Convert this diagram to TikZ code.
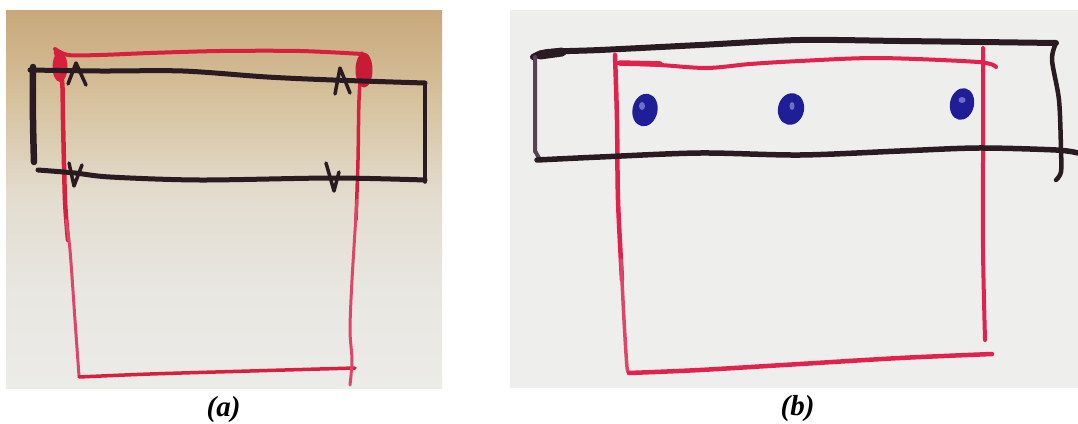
\documentclass[tikz,border=0pt]{standalone}
\usepackage{fontspec}
\setmainfont{Liberation Serif}
\definecolor{inkK}{RGB}{42,26,34}
\definecolor{inkKg}{RGB}{88,66,84}
\definecolor{inkR}{RGB}{214,32,62}
\definecolor{inkRd}{RGB}{198,28,52}
\definecolor{inkRl}{RGB}{222,70,105}
\definecolor{inkR2}{RGB}{226,34,76}
\definecolor{inkB}{RGB}{32,30,150}
\definecolor{inkBl}{RGB}{110,110,200}
\definecolor{pA1}{RGB}{200,168,122}
\definecolor{pA2}{RGB}{214,194,158}
\definecolor{pA3}{RGB}{227,221,208}
\definecolor{pA4}{RGB}{233,231,226}
\definecolor{pA5}{RGB}{235,235,232}
\definecolor{pB}{RGB}{238,239,237}
\pgfdeclareverticalshading{paperA}{100bp}{color(0bp)=(pA5); color(25bp)=(pA5); color(37bp)=(pA4); color(50bp)=(pA3); color(63bp)=(pA2); color(75bp)=(pA1); color(100bp)=(pA1)}
\tikzset{
  pen/.style={line cap=round, line join=round},
  blackpen/.style={pen, draw=inkK},
  redpen/.style={pen, draw=inkR},
  redpenb/.style={pen, draw=inkR2},
  lab/.style={font=\fontsize{29}{29}\selectfont\bfseries\itshape, inner sep=0pt, anchor=base}
}
\begin{document}
\begin{tikzpicture}[x=1pt,y=-1pt]
\useasboundingbox (0,0) rectangle (1078,423);
\fill[white] (0,0) rectangle (1078,423);
% ---------------- panel (a) ----------------
\fill[shading=paperA] (6,10) rectangle (442,388);
% red square
\draw[redpen, line width=4] plot[smooth] coordinates {(55,49) (68,55) (100,55) (150,53) (220,51) (300,51) (362,54)};
\draw[redpen, line width=4.5] plot[smooth] coordinates {(56,52) (62,80) (63,120) (65,200) (68,240)};
\draw[redpen, draw=inkRl, line width=3] plot[smooth] coordinates {(66,220) (70,250) (75,320) (79,376)};
\draw[redpen, line width=3.5] plot[smooth] coordinates {(79,377) (150,374) (250,371) (355,368)};
\draw[redpen, line width=3.5] plot[smooth] coordinates {(362,53) (359,100) (358,160) (356,220)};
\draw[redpen, draw=inkRl, line width=3] plot[smooth] coordinates {(357,200) (352,280) (350,330) (352,360) (350,385)};
\fill[inkR] (60,67) ellipse (7.5 and 15);
\fill[inkRd] (364,70) ellipse (8.5 and 17.5);
% black band
\draw[blackpen, line width=5] plot[smooth] coordinates {(30,70) (100,71) (183,71) (267,77) (333,80) (425,83)};
\draw[blackpen, line width=6.5] plot[smooth] coordinates {(33,67) (33,120) (34,162)};
\draw[blackpen, line width=3.5] (425,83) -- (425,182);
\draw[blackpen, line width=5] plot[smooth] coordinates {(38,170) (75,173) (110,177) (200,180) (333,178) (425,180)};
% marks
\draw[blackpen, line width=3.5] (68,84) -- (76,63) -- (86,85);
\draw[blackpen, line width=3.5] (335,94) -- (340,68) -- (350,93);
\draw[blackpen, line width=3.5] (69,163) -- (74,186) -- (82,165);
\draw[blackpen, line width=3.5] (326,163) -- (334,191) -- (339,172);
\node[lab] (labA) at (223.5,416) {(a)};
% ---------------- panel (b) ----------------
\fill[pB] (510,10) rectangle (1078,388);
% red square
\draw[redpenb, line width=4] plot[smooth] coordinates {(618,63) (660,65) (707,68) (750,64) (800,61) (878,58) (978,62) (996,67)};
\draw[redpenb, line width=5.5] (620,63) -- (660,64);
\draw[redpenb, line width=4.5] plot[smooth] coordinates {(615,55) (617,120) (618,200) (622,280)};
\draw[redpenb, draw=inkRl, line width=3.5] plot[smooth] coordinates {(621,260) (624,320) (627,367) (629,372)};
\draw[redpenb, line width=4.5] plot[smooth] coordinates {(629,373) (700,370) (800,364) (900,358) (992,354)};
\draw[redpenb, line width=4] plot[smooth] coordinates {(983,48) (983,150) (983,250) (985,340)};
% black band
\draw[blackpen, line width=6] plot[smooth] coordinates {(533,57) (548,52) (600,50) (700,45) (800,40) (900,41) (980,42) (1056,43)};
\draw[blackpen, line width=9] (540,55) -- (562,52);
\draw[pen, draw=inkKg, line width=4] (535,57) -- (535,152) to[out=90,in=180] (542,160);
\draw[blackpen, line width=5.5] plot[smooth] coordinates {(537,160) (600,157) (700,153) (800,155) (900,151) (978,148) (1056,150) (1078,153)};
\draw[blackpen, line width=4.5] plot[smooth] coordinates {(1056,43) (1052,60) (1059,100) (1061,150) (1061,172) (1056,180)};
% blue dots
\fill[inkB, rotate around={-12:(645,110)}] (645,110) ellipse (12.5 and 16.5);
\fill[inkB, rotate around={-12:(791,109)}] (791,109) ellipse (13 and 16);
\fill[inkB, rotate around={-12:(962,104)}] (962,104) ellipse (12 and 16);
\fill[inkBl] (642,106) ellipse (3 and 4);
\fill[inkBl] (792,106) ellipse (2.5 and 4);
\fill[inkBl] (962,100) ellipse (3.5 and 3);
\node[lab] (labB) at (797.5,415) {(b)};
\end{tikzpicture}
\end{document}
